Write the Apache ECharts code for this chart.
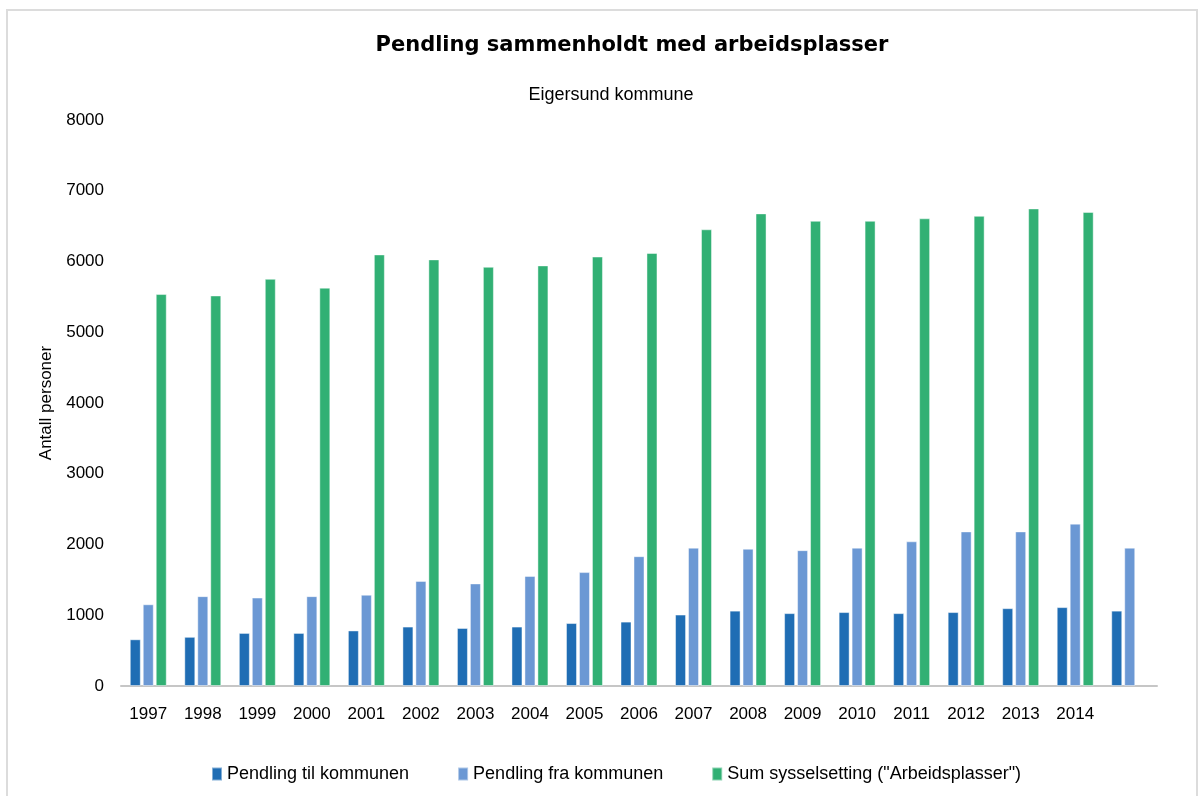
<!DOCTYPE html>
<html>
<head>
<meta charset="utf-8">
<title>Pendling sammenholdt med arbeidsplasser</title>
<script src="https://cdn.jsdelivr.net/npm/echarts@6/dist/echarts.min.js"></script>
<style>
  html, body { margin: 0; padding: 0; background: #fff; }
  #main { width: 1203px; height: 796px; }
</style>
</head>
<body>
<div id="main"></div>
<script>
// år (siste kategori har ingen etikett i originalen)
var years = ['1997', '1998', '1999', '2000', '2001', '2002', '2003', '2004', '2005',
  '2006', '2007', '2008', '2009', '2010', '2011', '2012', '2013', '2014', ''];

var pendlingTil = [660, 695, 750, 750, 785, 840, 820, 840, 890, 910,
  1010, 1065, 1030, 1045, 1030, 1045, 1100, 1115, 1065];
var pendlingFra = [1155, 1270, 1250, 1270, 1290, 1485, 1450, 1555, 1610, 1835,
  1955, 1940, 1920, 1955, 2045, 2185, 2185, 2295, 1955];
var sumSysselsetting = [5540, 5520, 5755, 5630, 6100, 6030, 5925, 5945, 6070, 6120,
  6455, 6680, 6575, 6575, 6610, 6645, 6750, 6700, null];

var yTicks = { min: 0, max: 8000, interval: 1000 };

var chart = echarts.init(document.getElementById('main'));

var textFont = '"Liberation Sans", Arial, sans-serif';
var barEdge = 'rgba(255,255,255,0.45)';

var option = {
  backgroundColor: '#fff',
  animation: false,
  color: ['#1f6db4', '#6b98d4', '#31b074'],
  title: [
    {
      text: 'Pendling sammenholdt med arbeidsplasser',
      left: 632,
      textAlign: 'center',
      top: 35,
      padding: 0,
      textStyle: {
        fontFamily: '"DejaVu Sans", sans-serif',
        fontWeight: 'bold',
        fontSize: 21,
        color: '#000'
      }
    },
    {
      text: 'Eigersund kommune',
      left: 611,
      textAlign: 'center',
      top: 86,
      padding: 0,
      textStyle: {
        fontFamily: textFont,
        fontWeight: 'normal',
        fontSize: 18,
        color: '#000'
      }
    }
  ],
  graphic: [
    {
      type: 'rect',
      shape: { x: 7, y: 10, width: 1190, height: 800 },
      style: { fill: 'none', stroke: '#dcdcdc', lineWidth: 2 },
      silent: true
    }
  ],
  legend: {
    bottom: 13,
    left: 211,
    padding: 0,
    itemWidth: 10,
    itemHeight: 13,
    itemGap: 48,
    icon: 'rect',
    textStyle: { fontFamily: textFont, fontSize: 18, color: '#000' },
    data: ['Pendling til kommunen', 'Pendling fra kommunen', 'Sum sysselsetting ("Arbeidsplasser")']
  },
  grid: {
    left: 121,
    right: 46,
    top: 120,
    bottom: 110,
    containLabel: false
  },
  xAxis: {
    type: 'category',
    data: years,
    axisTick: { show: false },
    axisLine: { lineStyle: { color: '#c6c6c6', width: 2 } },
    axisLabel: {
      interval: 0,
      margin: 20,
      color: '#000',
      fontFamily: textFont,
      fontSize: 17
    }
  },
  yAxis: {
    type: 'value',
    min: yTicks.min,
    max: yTicks.max,
    interval: yTicks.interval,
    name: 'Antall personer',
    nameLocation: 'middle',
    nameGap: 57,
    nameTextStyle: { fontFamily: textFont, fontSize: 17, color: '#000' },
    splitLine: { show: false },
    axisLine: { show: false },
    axisTick: { show: false },
    axisLabel: {
      margin: 17,
      color: '#000',
      fontFamily: textFont,
      fontSize: 17,
      formatter: function (v) { return String(v); }
    }
  },
  series: [
    {
      name: 'Pendling til kommunen',
      type: 'bar',
      barWidth: 11,
      barGap: '18%',
      data: pendlingTil,
      itemStyle: { borderColor: barEdge, borderWidth: 1 }
    },
    {
      name: 'Pendling fra kommunen',
      type: 'bar',
      barWidth: 11,
      barGap: '18%',
      data: pendlingFra,
      itemStyle: { borderColor: barEdge, borderWidth: 1 }
    },
    {
      name: 'Sum sysselsetting ("Arbeidsplasser")',
      type: 'bar',
      barWidth: 11,
      barGap: '18%',
      data: sumSysselsetting,
      itemStyle: { borderColor: barEdge, borderWidth: 1 }
    }
  ]
};

chart.setOption(option);
</script>
</body>
</html>
